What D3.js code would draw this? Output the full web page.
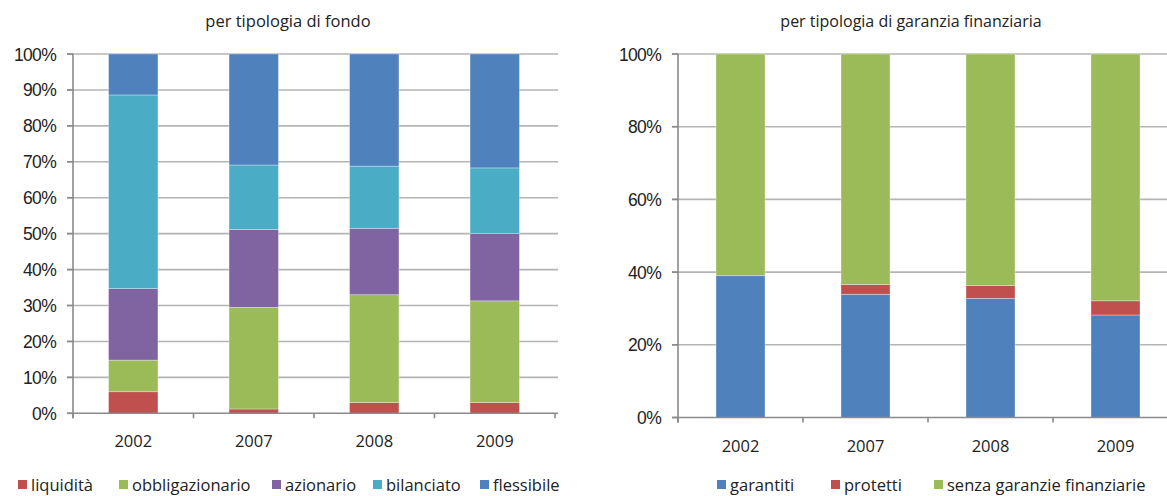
<!DOCTYPE html>
<html><head><meta charset="utf-8">
<script src="https://cdn.jsdelivr.net/npm/d3@7"></script>
<style>
body{margin:0;background:#fff;}
svg{display:block;}
</style></head>
<body>
<svg id="c" width="1167" height="496"></svg>
<script>
const years = ["2002","2007","2008","2009"];
const fundTypes = ["liquidità","obbligazionario","azionario","bilanciato","flessibile"];
const liquidita       = [6.0, 1.2, 3.0, 3.0];
const obbligazionario = [8.8, 28.3, 30.0, 28.3];
const azionario       = [19.9, 21.7, 18.5, 18.7];
const bilanciato      = [53.9, 17.9, 17.3, 18.3];
const flessibile      = [11.4, 30.9, 31.2, 31.7];
const fundColors = ["#C0504D","#9BBB59","#8064A2","#4BACC6","#4F81BD"];

const guarTypes = ["garantiti","protetti","senza garanzie finanziarie"];
const garantiti = [39.0, 33.9, 32.8, 28.2];
const protetti  = [0.0, 2.7, 3.5, 3.9];
const senza     = [61.0, 63.4, 63.7, 67.9];
const guarColors = ["#4F81BD","#C0504D","#9BBB59"];

const leftTicks = [0,10,20,30,40,50,60,70,80,90,100];
const rightTicks = [0,20,40,60,80,100];

const svg = d3.select("#c");
const tickFont = "'Liberation Sans', Arial, sans-serif";
const textFont = "'Open Sans', sans-serif";

function drawChart(opt){
  const g = svg.append("g");
  const rows = years.map((y,i)=>{const o={year:y}; opt.keys.forEach((k,j)=>o[k]=opt.series[j][i]); return o;});
  const stack = d3.stack().keys(opt.keys)(rows);
  const x = d3.scaleBand().domain(years).range([opt.x0, opt.x1]).paddingInner(opt.pad).paddingOuter(opt.pad/2);
  const y = d3.scaleLinear().domain([0,100]).range([opt.y0, opt.y1]);
  g.selectAll("line.grid").data(opt.ticks.filter(t=>t>0)).join("line")
    .attr("x1", opt.x0-6).attr("x2", opt.gridEnd)
    .attr("y1", d=>y(d)).attr("y2", d=>y(d))
    .attr("stroke","#b4b4b4").attr("stroke-width",1.6);
  g.selectAll("g.s").data(stack).join("g").attr("fill",(d,i)=>opt.colors[i])
    .selectAll("rect").data(d=>d).join("rect")
    .attr("x", d=>x(d.data.year)).attr("width", x.bandwidth())
    .attr("y", d=>y(d[1])).attr("height", d=>Math.max(0, y(d[0])-y(d[1])))
    .attr("stroke","#ffffff").attr("stroke-opacity",0.45).attr("stroke-width",0.7);
  g.append("line").attr("x1",opt.x0).attr("x2",opt.x0).attr("y1",opt.y1).attr("y2",opt.y0+5)
    .attr("stroke","#8a8a8a").attr("stroke-width",1.6);
  g.append("line").attr("x1",opt.x0-6).attr("x2",opt.gridEnd).attr("y1",opt.y0).attr("y2",opt.y0)
    .attr("stroke","#8a8a8a").attr("stroke-width",1.6);
  g.selectAll("line.yt").data(opt.ticks).join("line")
    .attr("x1",opt.x0-6).attr("x2",opt.x0).attr("y1",d=>y(d)).attr("y2",d=>y(d))
    .attr("stroke","#8a8a8a").attr("stroke-width",1.6);
  g.selectAll("text.yl").data(opt.ticks).join("text")
    .attr("x", opt.labelRight).attr("y", d=>y(d)+6.5)
    .attr("text-anchor","end").attr("font-family",tickFont).attr("font-size",17.5)
    .attr("letter-spacing","-0.7").attr("fill","#222")
    .text(d=>d+"%");
  const bounds = years.map(yy=>x(yy)-x.step()*opt.pad/2).concat([opt.x1]);
  g.selectAll("line.xt").data(bounds).join("line")
    .attr("x1",d=>d).attr("x2",d=>d).attr("y1",opt.y0).attr("y2",opt.y0+5)
    .attr("stroke","#8a8a8a").attr("stroke-width",1.6);
  g.selectAll("text.xl").data(years).join("text")
    .attr("x", d=>x(d)+x.bandwidth()/2).attr("y", opt.catY)
    .attr("text-anchor","middle").attr("font-family",textFont).attr("font-size",16.5)
    .attr("fill","#222").text(d=>d);
  g.append("text").attr("x",opt.titleX).attr("y",27).attr("text-anchor","middle")
    .attr("font-family",textFont).attr("font-size",opt.titleSize).attr("fill","#222").text(opt.title);
  const lg = g.selectAll("g.lg").data(opt.keys).join("g")
    .attr("transform",(d,i)=>`translate(${opt.legendX[i]},0)`);
  lg.append("rect").attr("x",0).attr("y",480).attr("width",9).attr("height",9).attr("fill",(d,i)=>opt.colors[i]);
  lg.append("text").attr("x",13).attr("y",491).attr("font-family",textFont).attr("font-size",16.5)
    .attr("fill","#222").text(d=>d);
}

drawChart({
  keys: fundTypes, series:[liquidita,obbligazionario,azionario,bilanciato,flessibile], colors: fundColors,
  x0:73, x1:555, pad:0.59, y0:413.3, y1:54, ticks:leftTicks, gridEnd:558, labelRight:56,
  catY:447, title:"per tipologia di fondo", titleX:288, titleSize:16.5,
  legendX:[18,119,272,373,480]
});
drawChart({
  keys: guarTypes, series:[garantiti,protetti,senza], colors: guarColors,
  x0:678, x1:1178, pad:0.608, y0:417.5, y1:54, ticks:rightTicks, gridEnd:1167, labelRight:661,
  catY:452, title:"per tipologia di garanzia finanziaria", titleX:911, titleSize:16,
  legendX:[717,831,934]
});
</script>
</body></html>
